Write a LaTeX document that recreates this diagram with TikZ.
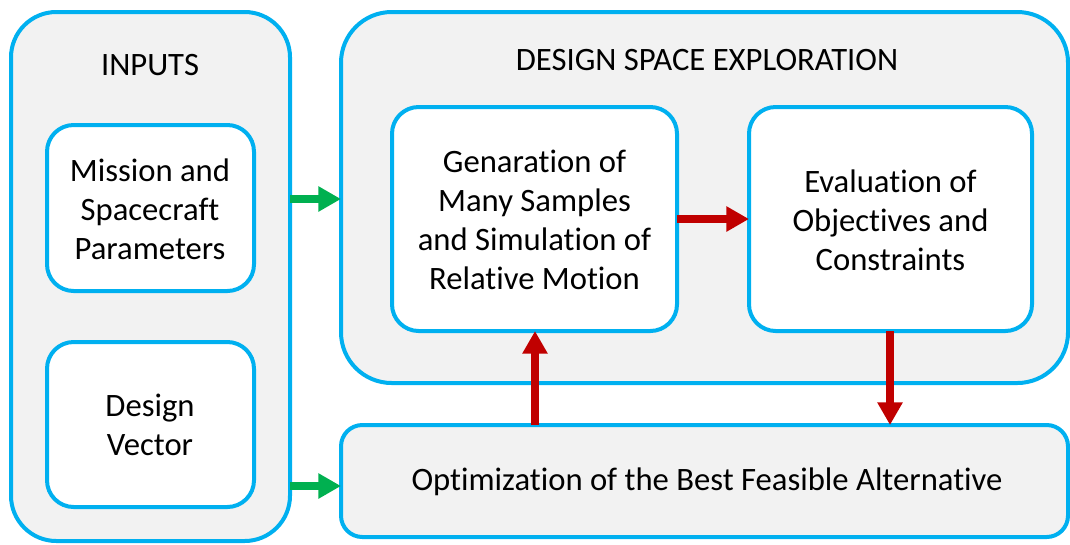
\documentclass[tikz,border=0pt]{standalone}
\usepackage{fontspec}
\setmainfont{Carlito}[Ligatures=NoCommon]
\usetikzlibrary{arrows.meta}
\definecolor{bcyan}{HTML}{00B0F0}
\definecolor{bgrey}{HTML}{F2F2F2}
\definecolor{agreen}{HTML}{00B050}
\definecolor{ared}{HTML}{C00000}
\begin{document}
\begin{tikzpicture}[x=0.75pt,y=-0.75pt,
  box/.style={draw=bcyan,line width=3pt,fill=bgrey},
  inner/.style={draw=bcyan,line width=3pt,fill=white,rounded corners=20pt},
  txt/.style={font=\fontsize{24.5}{29.2}\selectfont,align=center,text=black},
  garrow/.style={draw=agreen,line width=5.5pt,-{Triangle[length=17pt,width=18pt]}},
  rarrow/.style={draw=ared,line width=5.5pt,-{Triangle[length=17pt,width=18pt]}}]
\useasboundingbox (0,0) rectangle (1070,544);
% containers
\draw[box,rounded corners=34pt] (11,12) rectangle (290,541);
\draw[box,rounded corners=38pt] (341,12) rectangle (1068,383);
\draw[box,rounded corners=16pt] (341,425) rectangle (1068,537);
\coordinate (inR1) at (290,199);
\coordinate (inR2) at (290,486);
\coordinate (dseL) at (341,199);
\coordinate (optL) at (341,486);
% inner boxes
\draw[inner] (47,125) rectangle (254,291);
\draw[inner] (47,342) rectangle (254,507);
\draw[inner] (392,107) rectangle (677,331);
\draw[inner] (749,107) rectangle (1032,331);
% texts
\node[txt] (inputs) at (150,65) {INPUTS};
\node[txt] (dse) at (707,60) {DESIGN SPACE EXPLORATION};
\node[txt] (mission) at (150,209) {Mission and\\Spacecraft\\Parameters};
\node[txt] (design) at (150,425) {Design\\Vector};
\node[txt] (gen) at (534.5,220) {Genaration of\\Many Samples\\and Simulation of\\Relative Motion};
\node[txt] (eval) at (890.5,220) {Evaluation of\\Objectives and\\Constraints};
\node[txt] (opt) at (707,482) {Optimization of the Best Feasible Alternative};
\coordinate (genR) at (677,219);
\coordinate (evalL) at (749,219);
\coordinate (genB) at (535,331);
\coordinate (optT1) at (535,425);
\coordinate (evalB) at (890,331);
\coordinate (optT2) at (890,425);
% arrows
\draw[garrow] (inR1) -- (dseL);
\draw[garrow] (inR2) -- (optL);
\draw[rarrow] (genR) -- (evalL);
\draw[rarrow] (optT1) -- (genB);
\draw[rarrow] (evalB) -- (optT2);
\end{tikzpicture}
\end{document}
